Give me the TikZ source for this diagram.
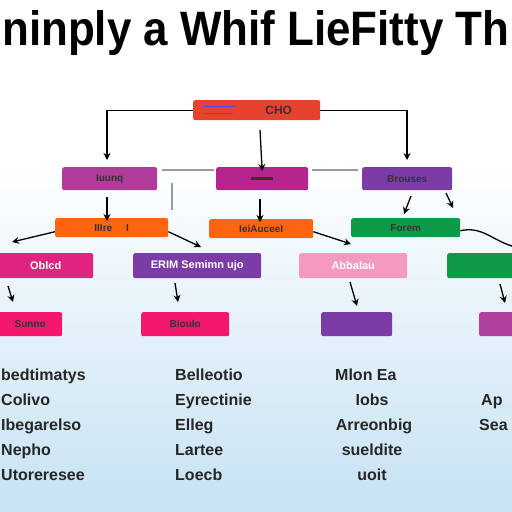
\documentclass[tikz,border=0pt]{standalone}
\usepackage{fontspec}
\setmainfont{Liberation Sans}
\usetikzlibrary{arrows.meta}
\definecolor{bgblue}{HTML}{C6E2F3}
\definecolor{cred}{HTML}{E6432F}
\definecolor{cmag}{HTML}{B03C9A}
\definecolor{cmagb}{HTML}{B5258E}
\definecolor{cpurp}{HTML}{7B3CA5}
\definecolor{corange}{HTML}{FF6410}
\definecolor{cgreen}{HTML}{0F9A48}
\definecolor{cpinkd}{HTML}{E0237F}
\definecolor{cpinkl}{HTML}{F49AC0}
\definecolor{chot}{HTML}{F5166E}
\definecolor{cmag2}{HTML}{B0409E}
\tikzset{
  box/.style={draw=none, rounded corners=2pt, anchor=north west, inner sep=0pt,
    font=\bfseries\fontsize{10}{11}\selectfont, text=black!80},
  wbox/.style={box, text=white, font=\bfseries\fontsize{11}{12}\selectfont},
  conn/.style={draw=black, line width=1.3pt},
  gconn/.style={draw=gray!80, line width=1.2pt},
  tip/.style={-{Stealth[length=7pt,width=7pt]}},
  lst/.style={font=\bfseries\fontsize{16}{18}\selectfont, text=black!85, inner sep=0pt, anchor=base west},
  lstc/.style={lst, anchor=base}
}
\begin{document}
\begin{tikzpicture}[x=1pt,y=-1pt]
\useasboundingbox (0,0) rectangle (512,512);
\fill[white] (0,0) rectangle (512,512);
\shade[top color=white, bottom color=bgblue] (0,160) rectangle (512,512);
% title
\node[inner sep=0pt, anchor=base west] (title) at (2,45)
  {\resizebox{507pt}{35pt}{\bfseries ninply a Whif LieFitty Th}};
% top box
\node[box, fill=cred, minimum width=127pt, minimum height=20pt,
  font=\bfseries\fontsize{12}{13}\selectfont] (top) at (193,100) {\hspace*{44pt}CHO};
\draw[blue!70, line width=1pt] (203,106) -- (235,106) (203,113) -- (233,113);
% row 2
\node[box, fill=cmag, minimum width=95pt, minimum height=23pt] (r2a) at (62,167) {Iuunq};
\node[box, fill=cmagb, minimum width=92pt, minimum height=23pt] (r2b) at (216,167) {\rule{22pt}{3pt}};
\node[box, fill=cpurp, minimum width=90pt, minimum height=23pt] (r2c) at (362,167) {Brouses};
% row 3
\node[box, fill=corange, minimum width=113pt, minimum height=19pt] (r3a) at (55,218) {IIIre\hspace{14pt}I};
\node[box, fill=corange, minimum width=104pt, minimum height=19pt] (r3b) at (209,219) {IeiAuceeI};
\node[box, fill=cgreen, minimum width=109pt, minimum height=19pt] (r3c) at (351,218) {Forem};
% row 4
\node[wbox, fill=cpinkd, minimum width=103pt, minimum height=25pt] (r4a) at (-10,253) {\hspace*{8pt}Oblcd};
\node[wbox, fill=cpurp, minimum width=128pt, minimum height=25pt] (r4b) at (133,253) {ERIM Semimn ujo};
\node[wbox, fill=cpinkl, minimum width=108pt, minimum height=25pt] (r4c) at (299,253) {Abbalau};
\node[wbox, fill=cgreen, minimum width=75pt, minimum height=25pt] (r4d) at (447,253) {};
% row 5
\node[box, fill=chot, minimum width=72pt, minimum height=24pt] (r5a) at (-10,312) {\hspace*{8pt}Sunno};
\node[box, fill=chot, minimum width=88pt, minimum height=24pt] (r5b) at (141,312) {Bioulo};
\node[box, fill=cpurp, minimum width=71pt, minimum height=24pt] (r5c) at (321,312) {};
\node[box, fill=cmag2, minimum width=43pt, minimum height=24pt] (r5d) at (479,312) {};
% connectors top
\coordinate (tl) at (107,160);
\coordinate (tr) at (407,160);
\coordinate (tc) at (260,130);
\draw[conn, tip] (top.west) -| (tl);
\draw[conn, tip] (top.east) -| (tr);
\draw[conn, tip] (tc) -- ([yshift=-4pt]r2b.north);
% horizontal grey
\draw[gconn] ([xshift=5pt]r2a.east |- 0,170) -- ([xshift=-2pt]r2b.west |- 0,170);
\draw[gconn] ([xshift=4pt]r2b.east |- 0,170) -- ([xshift=-4pt]r2c.west |- 0,170);
\coordinate (gv1) at (172,183);
\coordinate (gv2) at (172,210);
\draw[gconn] (gv1) -- (gv2);
% row2 -> row3
\draw[conn, tip] (107,197) -- ([yshift=-3pt]r3a.north -| 107,0);
\draw[conn, tip] (260,199) -- ([yshift=-3pt]r3b.north -| 260,0);
\draw[conn, tip] (411,196) -- (404,214);
\draw[conn, tip] (446,193) -- (453,208);
% diagonals
\coordinate (d1) at (12,242);
\coordinate (d2) at (201,247);
\coordinate (d3) at (351,244);
\coordinate (d4) at (512,246);
\draw[conn, tip] ([yshift=-4pt]r3a.west) -- (d1);
\draw[conn, tip] ([yshift=-4pt]r3a.east) -- (d2);
\draw[conn, tip] ([yshift=-3pt]r3b.east) -- (d3);
\draw[conn] ([yshift=-3pt]r3c.east) .. controls (482,226) and (492,240) .. (d4);
% row4 -> row5
\draw[conn, tip] (8,286) -- (13,302);
\draw[conn, tip] (175,283) -- (178,302);
\draw[conn, tip] (350,282) -- (357,306);
\draw[conn, tip] (500,284) -- (505,303);
% lists
\foreach \t [count=\i] in {bedtimatys,Colivo,Ibegarelso,Nepho,Utoreresee}
  \node[lst] (la\i) at (1,355+25*\i) {\t};
\foreach \t [count=\i] in {Belleotio,Eyrectinie,Elleg,Lartee,Loecb}
  \node[lst] (lb\i) at (175,355+25*\i) {\t};
\node[lst] (lc1) at (335,380) {Mlon Ea};
\node[lstc] (lc2) at (372,405) {Iobs};
\node[lstc] (lc3) at (374,430) {Arreonbig};
\node[lstc] (lc4) at (372,455) {sueldite};
\node[lstc] (lc5) at (372,480) {uoit};
\node[lst] (ld1) at (481,405) {Ap};
\node[lst] (ld2) at (479,430) {Sea};
\end{tikzpicture}
\end{document}
